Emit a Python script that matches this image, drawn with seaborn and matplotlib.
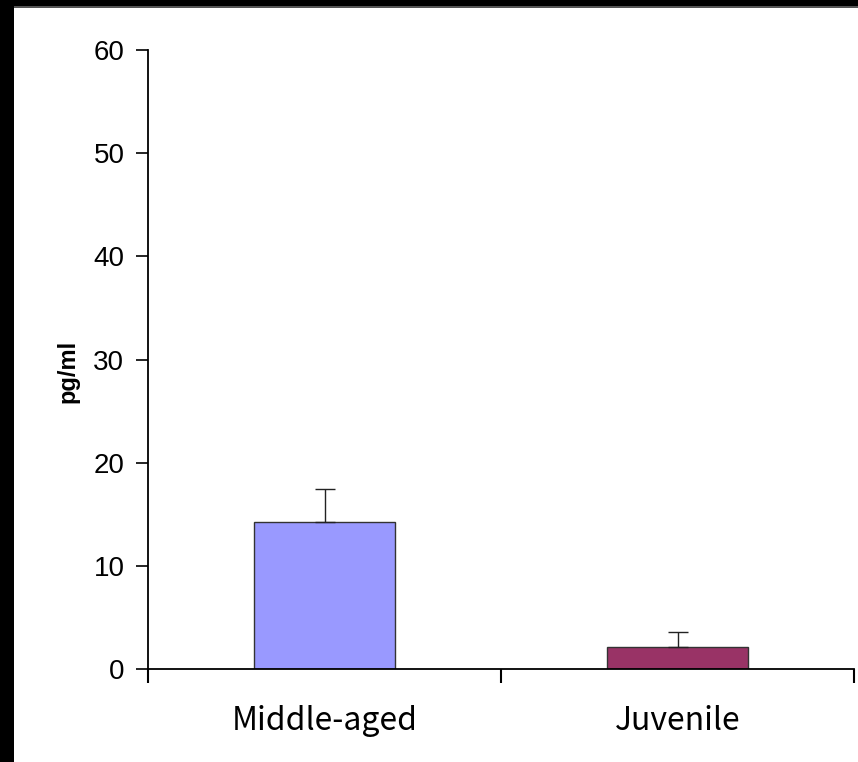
import seaborn as sns
import pandas as pd
import matplotlib.pyplot as plt
from matplotlib.patches import Rectangle

# data
groups = ['Middle-aged', 'Juvenile']
means = [14.25, 2.15]
sem = [3.15, 1.4]
bar_colors = ['#9999FF', '#993366']
y_ticks = [0, 10, 20, 30, 40, 50, 60]

df = pd.DataFrame({'group': groups, 'value': means})

sns.set_style('ticks')
plt.rcParams['font.family'] = ['Liberation Sans', 'DejaVu Sans']
plt.rcParams['text.color'] = 'black'
plt.rcParams['xtick.color'] = 'black'
plt.rcParams['ytick.color'] = 'black'
plt.rcParams['axes.labelcolor'] = 'black'

fig = plt.figure(figsize=(8.58, 7.62), dpi=100)
fig.patch.set_facecolor('black')
# white page inside the black frame
fig.patches.append(Rectangle((14 / 858, 0), 1, 1 - 8 / 762, transform=fig.transFigure,
                             facecolor='white', edgecolor='none', zorder=-10))
fig.patches.append(Rectangle((14 / 858, 1 - 8 / 762), 1, 2 / 762, transform=fig.transFigure,
                             facecolor='#555555', edgecolor='none', zorder=-10))

ax = fig.add_axes([148 / 858, 1 - 669 / 762, (854 - 148) / 858, (669 - 50) / 762])
ax.set_facecolor('white')

sns.barplot(data=df, x='group', y='value', hue='group', palette=bar_colors,
            saturation=1, width=0.4, edgecolor='#333333', linewidth=1,
            legend=False, ax=ax)

# upper error bars only
ax.errorbar(range(len(groups)), means, yerr=[[0] * len(groups), sem], fmt='none',
            ecolor='#222222', elinewidth=1, capsize=7.5, capthick=1, zorder=3)

ax.set_xlim(-0.5, len(groups) - 0.5)
ax.set_ylim(0, 60)
ax.set_yticks(y_ticks)
ax.tick_params(axis='y', labelsize=20, length=9, width=1.2, direction='out', pad=8,
               colors='black')

# category boundary ticks, labels centred under bars
ax.set_xticks([i - 0.5 for i in range(len(groups) + 1)])
ax.set_xticklabels([])
ax.tick_params(axis='x', which='major', length=10, width=1.5, direction='out', colors='black')
ax.set_xticks(range(len(groups)), minor=True)
ax.set_xticklabels(groups, minor=True, fontsize=23, family=['Noto Sans CJK JP', 'DejaVu Sans'])
ax.tick_params(axis='x', which='minor', length=0, pad=26, labelcolor='black')

ax.set_xlabel('')
ax.set_ylabel('pg/ml', fontsize=17, fontweight='bold', color='black')
ax.yaxis.set_label_coords(-0.097, 0.481)

for side in ['top', 'right']:
    ax.spines[side].set_visible(False)
ax.spines['left'].set_linewidth(1.3)
ax.spines['bottom'].set_linewidth(1.3)
ax.spines['left'].set_color('black')
ax.spines['bottom'].set_color('black')

fig.savefig('out.png', dpi=100, facecolor=fig.get_facecolor())
